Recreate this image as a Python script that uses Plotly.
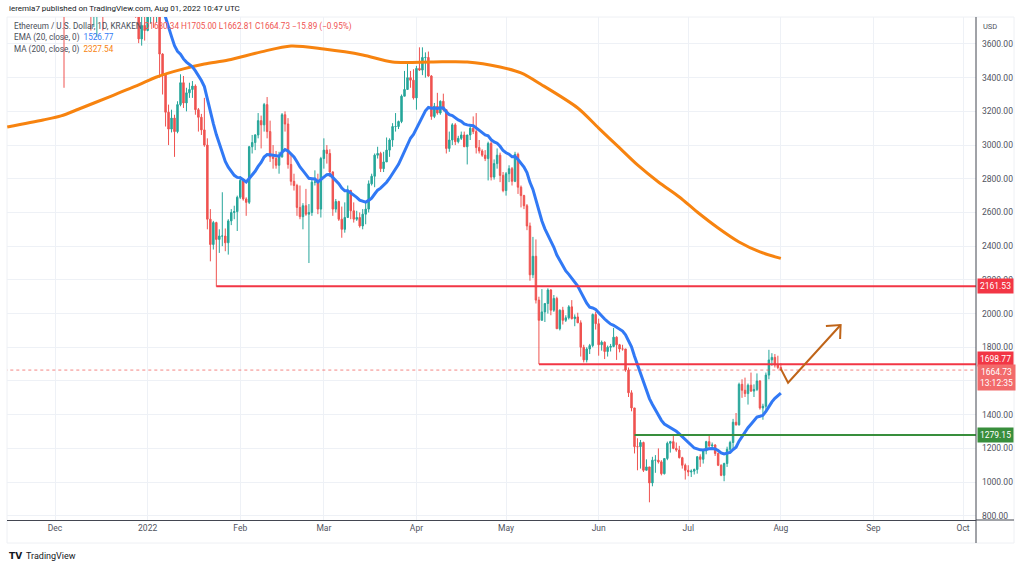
import pandas as pd
import plotly.graph_objects as go

# ---------------- data ----------------
start_date = "2021-11-15"
end_date = "2022-08-01"

opens_nov = [4645,4560,4215,4290,3995,4310,4435,4320,4090,4340,4270,4525,4040,4095,4290,4445]
highs_nov = [4770,4565,4300,4345,4330,4440,4460,4370,4390,4375,4550,4550,4180,4300,4475,4770]
lows_nov = [4540,4100,4060,3975,3920,4210,4300,4060,4050,4180,4250,3920,4040,3970,4285,4360]
closes_nov = [4560,4215,4290,3995,4310,4435,4320,4090,4340,4270,4525,4040,4095,4290,4445,4630]

opens_dec = [4630,4585,4515,4225,4120,4195,4345,4310,4430,4110,3905,4075,4135,3780,3860,4020,3960,3880,3960,3925,3940,4015,3980,4110,4045,4100,4070,4035,3795,3630,3710]
highs_dec = [4780,4650,4640,4240,4230,4345,4420,4440,4480,4230,4090,4165,4140,3890,4090,4100,3990,4000,4045,3960,4060,4065,4150,4145,4135,4110,4125,4035,3825,3765,3810]
lows_dec = [4530,4435,4200,3340,3900,3925,4280,4200,4090,3890,3830,4030,3680,3700,3640,3950,3680,3810,3910,3800,3920,3960,3960,4020,4030,3990,4030,3755,3605,3590,3620]
closes_dec = [4585,4515,4225,4120,4195,4345,4310,4430,4110,3905,4075,4135,3780,3860,4020,3960,3880,3960,3925,3940,4015,3980,4110,4045,4100,4070,4035,3795,3630,3710,3680]

opens_jan = [3680,3770,3830,3765,3790,3540,3420,3195,3095,3160,3080,3240,3370,3250,3310,3330,3350,3210,3165,3090,3000,2560,2410,2540,2440,2460,2460,2420,2550,2600,2605]
highs_jan = [3775,3860,3850,3880,3850,3545,3425,3240,3210,3180,3260,3420,3410,3340,3370,3380,3360,3220,3185,3280,3040,2620,2550,2545,2500,2720,2505,2560,2620,2640,2700]
lows_jan = [3675,3720,3695,3725,3400,3300,3110,3000,3075,2930,3070,3230,3220,3200,3280,3280,3180,3080,3060,2990,2500,2310,2380,2160,2360,2400,2370,2350,2525,2560,2490]
closes_jan = [3770,3830,3765,3790,3540,3420,3195,3095,3160,3080,3240,3370,3250,3310,3330,3350,3210,3165,3090,3000,2560,2410,2540,2440,2460,2460,2420,2550,2600,2605,2690]

opens_feb = [2690,2790,2680,2660,2990,3015,3060,3145,3120,3240,3080,2930,2920,2880,2930,3180,3125,2885,2785,2760,2630,2575,2640,2590,2600,2780,2780,2620]
highs_feb = [2815,2800,2690,2995,3060,3065,3190,3175,3250,3285,3145,3000,2965,2960,3190,3200,3160,2950,2830,2770,2760,2655,2740,2650,2800,2850,2830,2930]
lows_feb = [2680,2670,2580,2650,2950,2970,3040,2980,3080,3040,2900,2860,2860,2830,2925,3080,2860,2760,2730,2580,2560,2500,2580,2300,2580,2760,2590,2570]
closes_feb = [2790,2680,2660,2990,3015,3060,3145,3120,3240,3080,2930,2920,2880,2930,3180,3125,2885,2785,2760,2630,2575,2640,2590,2600,2780,2780,2620,2920]

opens_mar = [2920,2970,2950,2840,2620,2665,2560,2500,2570,2730,2610,2560,2570,2520,2590,2620,2770,2815,2940,2950,2860,2900,2970,3030,3110,3110,3140,3290,3330,3400,3385]
highs_mar = [3040,3000,2975,2845,2680,2670,2635,2660,2760,2735,2660,2610,2600,2620,2660,2790,2830,2950,2990,2960,2960,3045,3040,3130,3190,3145,3300,3440,3485,3440,3450]
lows_mar = [2860,2890,2810,2580,2600,2550,2450,2480,2570,2560,2540,2550,2510,2500,2530,2600,2760,2750,2920,2840,2840,2900,2930,2990,3080,3095,3130,3290,3330,3340,3270]
closes_mar = [2970,2950,2840,2620,2665,2560,2500,2570,2730,2610,2560,2570,2520,2590,2620,2770,2815,2940,2950,2860,2900,2970,3030,3110,3110,3140,3290,3330,3400,3385,3280]

opens_apr = [3280,3455,3445,3520,3520,3410,3170,3230,3190,3260,3210,2980,3030,3120,3020,3040,3060,2990,3060,3100,3080,2985,2965,2940,2920,3010,2810,2890,2940,2820]
highs_apr = [3470,3580,3580,3550,3555,3415,3250,3310,3265,3305,3210,3080,3130,3130,3055,3080,3080,3060,3120,3170,3190,3030,2975,2970,3020,3035,2915,2980,2955,2840]
lows_apr = [3210,3440,3415,3400,3405,3150,3160,3180,3180,3200,2950,2960,3000,3000,3010,3030,2990,2885,3030,3065,2950,2950,2930,2905,2790,2790,2795,2860,2780,2720]
closes_apr = [3455,3445,3520,3520,3410,3170,3230,3190,3260,3210,2980,3030,3120,3020,3040,3060,2990,3060,3100,3080,2985,2965,2940,2920,3010,2810,2890,2940,2820,2730]

opens_may = [2730,2830,2860,2785,2945,2750,2700,2640,2520,2230,2340,2080,1960,2010,2060,2140,2020,2090,1910,2020,1960,1975,2040,1970,1980,1945,1800,1725,1790,1810,1995]
highs_may = [2840,2880,2870,2960,2955,2760,2705,2650,2540,2455,2440,2100,2145,2060,2150,2145,2110,2100,2025,2040,1990,2050,2080,1995,2005,1960,1815,1800,1820,2000,2010]
lows_may = [2700,2780,2760,2780,2710,2630,2620,2495,2195,2210,2060,1700,1960,1950,2000,1990,2010,1910,1900,1935,1950,1965,1965,1925,1945,1745,1710,1710,1760,1800,1905]
closes_may = [2830,2860,2785,2945,2750,2700,2640,2520,2230,2340,2080,1960,2010,2060,2140,2020,2090,1910,2020,1960,1975,2040,1970,1980,1945,1800,1725,1790,1810,1995,1940]

opens_jun = [1940,1815,1830,1775,1800,1805,1860,1815,1790,1790,1665,1530,1440,1210,1210,1235,1070,1090,995,1130,1130,1120,1050,1140,1230,1240,1200,1190,1145,1100]
highs_jun = [1970,1840,1835,1810,1820,1915,1865,1820,1815,1790,1680,1545,1440,1260,1250,1240,1135,1090,1150,1160,1200,1130,1140,1240,1245,1280,1235,1215,1150,1110]
lows_jun = [1750,1780,1730,1745,1775,1800,1725,1770,1780,1655,1505,1420,1170,1070,1080,1060,1070,880,975,1055,1110,1040,1045,1130,1175,1195,1180,1140,1080,1015]
closes_jun = [1815,1830,1775,1800,1805,1860,1815,1790,1790,1665,1530,1440,1210,1210,1235,1070,1090,995,1130,1130,1120,1050,1140,1230,1240,1200,1190,1145,1100,1070]

opens_jul = [1070,1060,1065,1075,1150,1135,1185,1240,1215,1220,1170,1100,1040,1110,1195,1235,1355,1340,1580,1545,1525,1575,1540,1550,1600,1440,1450,1635,1725,1740,1695]
highs_jul = [1100,1075,1080,1155,1165,1195,1245,1280,1235,1225,1175,1105,1115,1210,1245,1375,1410,1590,1610,1620,1585,1650,1580,1645,1605,1465,1650,1785,1765,1760,1750]
lows_jul = [1035,1030,1045,1050,1090,1110,1165,1205,1205,1155,1095,1035,1005,1090,1170,1190,1335,1335,1500,1505,1460,1535,1505,1540,1430,1370,1425,1610,1690,1680,1670]
closes_jul = [1060,1065,1075,1150,1135,1185,1240,1215,1220,1170,1100,1040,1110,1195,1235,1355,1340,1580,1545,1525,1575,1540,1550,1600,1440,1450,1635,1725,1740,1695,1680]

opens_aug = [1680.34]
highs_aug = [1705.00]
lows_aug = [1662.81]
closes_aug = [1664.73]

# 200-day MA
ma_dates = ["2021-11-15","2021-11-27","2021-12-03","2021-12-09","2021-12-19","2021-12-29","2022-01-04",
            "2022-01-13","2022-01-20","2022-01-28","2022-02-08","2022-02-18","2022-03-01","2022-03-14",
            "2022-03-24","2022-04-06","2022-04-18","2022-04-29","2022-05-06","2022-05-13","2022-05-25",
            "2022-06-01","2022-06-08","2022-06-14","2022-06-21","2022-06-28","2022-07-04","2022-07-11",
            "2022-07-18","2022-07-25","2022-08-01"]
ma_values = [3107,3149,3173,3214,3285,3357,3404,3452,3481,3505,3553,3588,3570,3535,3493,3493,3493,3463,
             3428,3357,3220,3101,2983,2882,2781,2692,2603,2508,2425,2366,2327.54]

# horizontal levels drawn on the chart
level_values = [2161.53, 1698.77, 1279.15]
level_starts = ["2022-01-24", "2022-05-12", "2022-06-13"]
level_colors = ["#f23645", "#f23645", "#388e3c"]

# projected path arrow
arrow_dates = ["2022-08-01", "2022-08-03 10:00", "2022-08-21"]
arrow_prices = [1672, 1590, 1932]
head_dates = ["2022-08-16 02:00", "2022-08-21", "2022-08-20 20:00"]
head_prices = [1926, 1932, 1849]

month_ticks = ["2021-12-01","2022-01-01","2022-02-01","2022-03-01","2022-04-01","2022-05-01",
               "2022-06-01","2022-07-01","2022-08-01","2022-09-01","2022-10-01"]
month_labels = ["Dec","2022","Feb","Mar","Apr","May","Jun","Jul","Aug","Sep","Oct"]
price_ticks = list(range(800, 3601, 200))

# ---------------- build ----------------
opens = opens_nov+opens_dec+opens_jan+opens_feb+opens_mar+opens_apr+opens_may+opens_jun+opens_jul+opens_aug
highs = highs_nov+highs_dec+highs_jan+highs_feb+highs_mar+highs_apr+highs_may+highs_jun+highs_jul+highs_aug
lows = lows_nov+lows_dec+lows_jan+lows_feb+lows_mar+lows_apr+lows_may+lows_jun+lows_jul+lows_aug
closes = closes_nov+closes_dec+closes_jan+closes_feb+closes_mar+closes_apr+closes_may+closes_jun+closes_jul+closes_aug
dates = pd.date_range(start_date, end_date, freq="D")
assert len(opens) == len(highs) == len(lows) == len(closes) == len(dates), (len(opens), len(highs), len(lows), len(closes), len(dates))

ema20 = pd.Series(closes).ewm(span=20, adjust=False).mean()

UP = "#26a69a"
DN = "#ef5350"
BLUE = "#3179f5"
ORANGE = "#f7830f"
FONT = "Roboto"
TXT = "#131722"

fig = go.Figure()
fig.add_trace(go.Candlestick(
    x=dates, open=opens, high=highs, low=lows, close=closes,
    increasing=dict(line=dict(color=UP, width=1), fillcolor=UP),
    decreasing=dict(line=dict(color=DN, width=1), fillcolor=DN),
    whiskerwidth=0, showlegend=False, hoverinfo="skip"))

fig.add_trace(go.Scatter(x=ma_dates, y=ma_values, mode="lines",
                         line=dict(color=ORANGE, width=3, shape="spline", smoothing=0.8),
                         showlegend=False, hoverinfo="skip"))
fig.add_trace(go.Scatter(x=dates, y=ema20, mode="lines",
                         line=dict(color=BLUE, width=3),
                         showlegend=False, hoverinfo="skip"))

x_end = "2022-10-06"
for v, s, c in zip(level_values, level_starts, level_colors):
    fig.add_trace(go.Scatter(x=[s, x_end], y=[v, v], mode="lines",
                             line=dict(color=c, width=2), showlegend=False, hoverinfo="skip"))

# current price dotted line
fig.add_trace(go.Scatter(x=["2021-11-10", x_end], y=[closes[-1], closes[-1]], mode="lines",
                         line=dict(color="rgba(239,83,80,0.7)", width=1, dash="dot"),
                         showlegend=False, hoverinfo="skip"))

fig.add_trace(go.Scatter(x=arrow_dates, y=arrow_prices, mode="lines",
                         line=dict(color="#bf6418", width=2), showlegend=False, hoverinfo="skip"))
fig.add_trace(go.Scatter(x=head_dates, y=head_prices, mode="lines",
                         line=dict(color="#bf6418", width=2), showlegend=False, hoverinfo="skip"))

L, R, T, B = 7, 48, 17, 47
W, H = 1024, 567
pw, ph = W - L - R, H - T - B

def px(x):
    return (x - L) / pw

def py(y):
    return (H - B - y) / ph

ann = []
ann.append(dict(x=px(7), y=py(8), xref="paper", yref="paper", xanchor="left", yanchor="middle",
                text="ieremia7 published on TradingView.com, Aug 01, 2022 10:47 UTC",
                showarrow=False, font=dict(family=FONT, size=8, color=TXT)))
ann.append(dict(x=px(12), y=py(26), xref="paper", yref="paper", xanchor="left", yanchor="middle",
                text=("Ethereum / U.S. Dollar, 1D, KRAKEN <span style='color:%s'>O1680.34 H1705.00 "
                      "L1662.81 C1664.73 −15.89 (−0.95%%)</span>" % DN),
                showarrow=False, font=dict(family=FONT, size=8.2, color="#4a4e59")))
ann.append(dict(x=px(12), y=py(38), xref="paper", yref="paper", xanchor="left", yanchor="middle",
                text="EMA (20, close, 0)  <span style='color:%s'>1526.77</span>" % BLUE,
                showarrow=False, font=dict(family=FONT, size=8.2, color="#4a4e59")))
ann.append(dict(x=px(12), y=py(50), xref="paper", yref="paper", xanchor="left", yanchor="middle",
                text="MA (200, close, 0)  <span style='color:%s'>2327.54</span>" % ORANGE,
                showarrow=False, font=dict(family=FONT, size=8.2, color="#4a4e59")))
ann.append(dict(x=px(981), y=py(26), xref="paper", yref="paper", xanchor="left", yanchor="middle",
                text="USD", showarrow=False, font=dict(family=FONT, size=7.5, color="#50535e")))

# price labels on the scale
price_boxes = [(level_values[0], "2161.53", "#f23645", 0),
               (level_values[1], "1698.77", "#f23645", 5),
               (closes[-1], "1664.73<br>13:12:35", "#f26b6b", -7),
               (level_values[2], "1279.15", "#388e3c", 0)]
for v, t, c, sh in price_boxes:
    ann.append(dict(x=1.0, y=v, xref="paper", yref="y", xanchor="left", yanchor="middle",
                    text=t, showarrow=False, bgcolor=c, borderpad=2, yshift=sh, xshift=1,
                    font=dict(family=FONT, size=8.5, color="white")))

ann.append(dict(x=px(7), y=py(556), xref="paper", yref="paper", xanchor="left", yanchor="middle",
                text="<b>TV</b>", showarrow=False, font=dict(family="DejaVu Sans", size=9, color=TXT)))
ann.append(dict(x=px(24), y=py(556), xref="paper", yref="paper", xanchor="left", yanchor="middle",
                text="TradingView", showarrow=False, font=dict(family=FONT, size=9, color=TXT)))

shapes = [
    dict(type="line", xref="paper", yref="paper", x0=1.0, x1=px(1014), y0=0, y1=0,
         line=dict(color="#434651", width=1)),
    dict(type="line", xref="paper", yref="paper", x0=1.0, x1=1.0, y0=py(543), y1=1,
         line=dict(color="#434651", width=1)),
    dict(type="rect", xref="paper", yref="paper", x0=0, x1=px(1014), y0=py(543), y1=py(17),
         line=dict(color="#eef0f4", width=1), layer="below"),
]

fig.update_layout(
    width=W, height=H, margin=dict(l=L, r=R, t=T, b=B),
    paper_bgcolor="white", plot_bgcolor="white",
    font=dict(family=FONT, size=9, color="#50535e"),
    annotations=ann, shapes=shapes, showlegend=False,
    xaxis=dict(type="date", range=["2021-11-14 22:00", "2022-10-05 08:00"],
               rangeslider=dict(visible=False), tickvals=month_ticks, ticktext=month_labels,
               showgrid=True, gridcolor="#eef1f6", gridwidth=1, zeroline=False,
               showline=True, linecolor="#434651", linewidth=1, ticks="",
               tickfont=dict(family=FONT, size=8.5, color="#50535e")),
    yaxis=dict(side="right", range=[775, 3760], tickvals=price_ticks, tickformat=".2f",
               showgrid=True, gridcolor="#eef1f6", gridwidth=1, zeroline=False,
               showline=False, ticks="", ticklabelstandoff=5,
               tickfont=dict(family=FONT, size=8.5, color="#50535e")),
)

fig.write_html("out.html", config={"displayModeBar": False},
               post_script="document.body.style.margin='0';document.body.style.overflow='hidden';")
